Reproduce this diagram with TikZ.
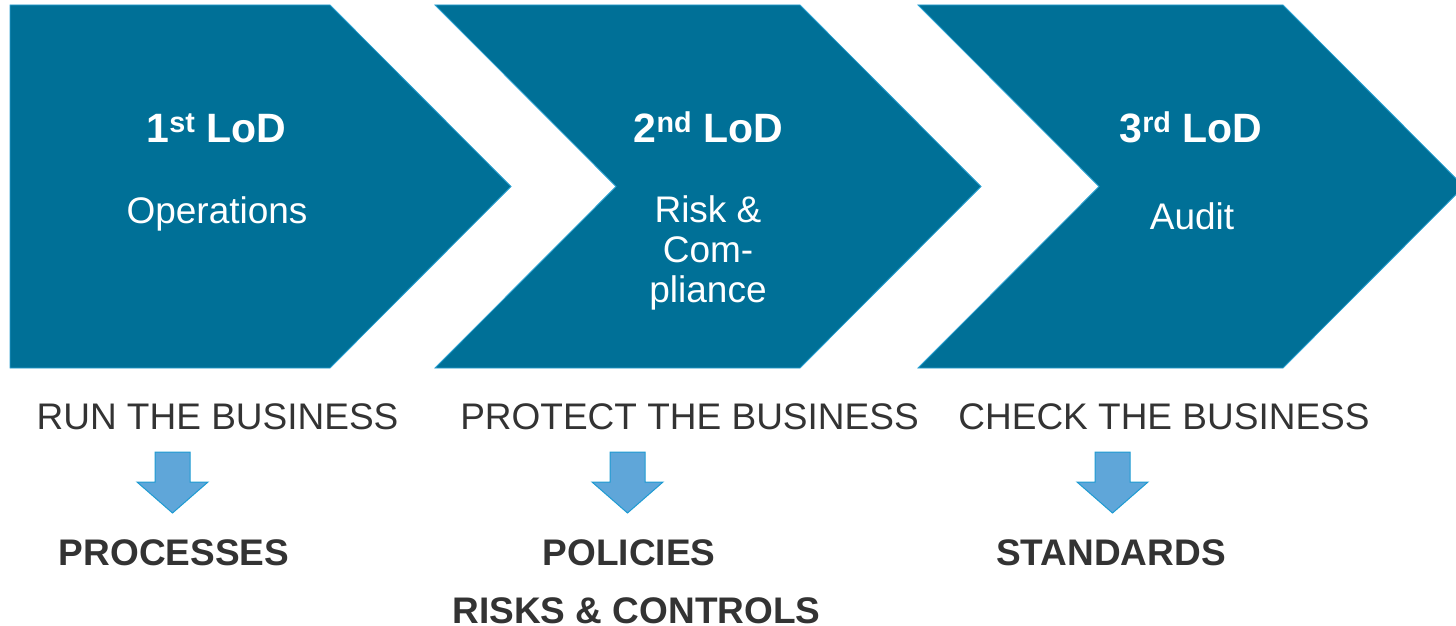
\documentclass[tikz,border=0pt]{standalone}
\usepackage{fontspec}
\setmainfont{Liberation Sans}
\definecolor{lodblue}{RGB}{0,112,151}
\definecolor{lodedge}{RGB}{40,160,210}
\definecolor{arrowfill}{RGB}{95,166,217}
\definecolor{arrowedge}{RGB}{30,155,210}
\definecolor{textgray}{RGB}{51,51,51}
\begin{document}
\begin{tikzpicture}[x=1pt,y=-1pt,
    chevron/.style={fill=lodblue, draw=lodedge, line width=0.8pt},
    downarrow/.style={fill=arrowfill, draw=arrowedge, line width=1pt},
    lodtitle/.style={text=white, anchor=base, font=\fontsize{41}{47}\selectfont\bfseries},
    lodsub/.style={text=white, anchor=base, align=center, font=\fontsize{37}{40}\selectfont},
    task/.style={text=textgray, anchor=base, font=\fontsize{37}{43}\selectfont},
    outcome/.style={text=textgray, anchor=base, font=\fontsize{37}{43}\selectfont\bfseries}]

    \useasboundingbox (0,0) rectangle (1456,626);

% chevrons
    \draw[chevron] (10,5) -- (330,5) -- (511,186.5) -- (330,368) -- (10,368) -- cycle;
    \draw[chevron] (435,5) -- (800,5) -- (981,186.5) -- (800,368) -- (435,368) -- (616,186.5) -- cycle;
    \draw[chevron] (918,5) -- (1283,5) -- (1464,186.5) -- (1283,368) -- (918,368) -- (1099,186.5) -- cycle;

% lines of defence
    \node[lodtitle] (lod1) at (216.5,142) {1\textsuperscript{st} LoD};
    \node[lodtitle] (lod2) at (708.5,142) {2\textsuperscript{nd} LoD};
    \node[lodtitle] (lod3) at (1191,142) {3\textsuperscript{rd} LoD};

    \node[lodsub] (ops) at (217,223) {Operations};
    % base of a node with several lines is its last line
    \node[lodsub] (risk) at (708,302) {Risk \&\\Com-\\pliance};
    \node[lodsub] (audit) at (1192,229) {Audit};

% what each line does
    \node[task] (run) at (217.5,429) {RUN THE BUSINESS};
    \node[task] (protect) at (689.5,429) {PROTECT THE BUSINESS};
    \node[task] (check) at (1164,429) {CHECK THE BUSINESS};

	 % block arrows
	 \foreach \cx in {172.5, 627.5, 1112.5}{
			\draw[downarrow] (\cx-17.5,452) -- (\cx+17.5,452) -- (\cx+17.5,482)
				-- (\cx+35.5,482) -- (\cx,513) -- (\cx-35.5,482) -- (\cx-17.5,482) -- cycle;
	 }

    \node[outcome] (processes) at (174,565) {PROCESSES};
    \node[outcome] (policies) at (629,565) {POLICIES};
    \node[outcome, inner sep=0pt, text depth=0pt] (controls) at (636.5,623) {RISKS \& CONTROLS};
    \node[outcome] (standards) at (1111,565) {STANDARDS};
\end{tikzpicture}
\end{document}
